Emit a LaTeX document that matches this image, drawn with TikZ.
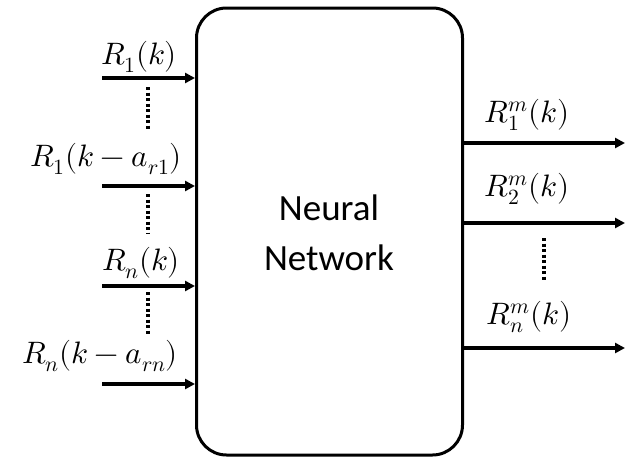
\documentclass[tikz,border=0pt]{standalone}
\usepackage{fontspec}
\usepackage{unicode-math}
\setmathfont{Latin Modern Math}
\newfontfamily\nnfont{Carlito}
\usetikzlibrary{arrows.meta}
\tikzset{
  nnbox/.style={draw, line width=3pt, rounded corners=30pt, minimum width=266pt, minimum height=447pt, inner sep=0pt},
  sig/.style={line width=3.5pt, -{Triangle[length=10pt,width=10pt]}},
  dots/.style={line width=4pt, dash pattern=on 3pt off 2.5pt},
  lbl/.style={inner sep=0pt, font=\fontsize{31}{35}\selectfont}
}
\begin{document}
\begin{tikzpicture}[x=1pt,y=-1pt]
\useasboundingbox (0,0) rectangle (625,459);
\node[nnbox] (nn) at (329.5,231.5) {};
\node[align=center, font=\nnfont\fontsize{37}{50}\selectfont] (txt) at (329,233) {Neural\\Network};
% inputs
\coordinate (i1) at (102,78);
\coordinate (i2) at (102,186);
\coordinate (i3) at (102,286);
\coordinate (i4) at (102,384);
\draw[sig] (i1) -- (i1 -| nn.west);
\draw[sig] (i2) -- (i2 -| nn.west);
\draw[sig] (i3) -- (i3 -| nn.west);
\draw[sig] (i4) -- (i4 -| nn.west);
\node[lbl] (l1) at (139,57) {$R_1(k)$};
\node[lbl] (l2) at (106,159) {$R_1(k-a_{r1})$};
\node[lbl] (l3) at (141,263) {$R_n(k)$};
\node[lbl] (l4) at (100,356) {$R_n(k-a_{rn})$};
\coordinate (d1a) at (148,87); \coordinate (d1b) at (148,129);
\coordinate (d2a) at (148,194); \coordinate (d2b) at (148,234);
\coordinate (d3a) at (148,292); \coordinate (d3b) at (148,334);
\draw[dots] (d1a) -- (d1b);
\draw[dots] (d2a) -- (d2b);
\draw[dots] (d3a) -- (d3b);
% outputs
\coordinate (o1) at (625,143);
\coordinate (o2) at (625,223);
\coordinate (o3) at (625,348);
\draw[sig] (o1 -| nn.east) -- (o1);
\draw[sig] (o2 -| nn.east) -- (o2);
\draw[sig] (o3 -| nn.east) -- (o3);
\node[lbl] (r1) at (527,115) {$R_1^m(k)$};
\node[lbl] (r2) at (527,189) {$R_2^m(k)$};
\node[lbl] (r3) at (529,317) {$R_n^m(k)$};
\coordinate (d4a) at (544,238); \coordinate (d4b) at (544,281);
\draw[dots] (d4a) -- (d4b);
\end{tikzpicture}
\end{document}
